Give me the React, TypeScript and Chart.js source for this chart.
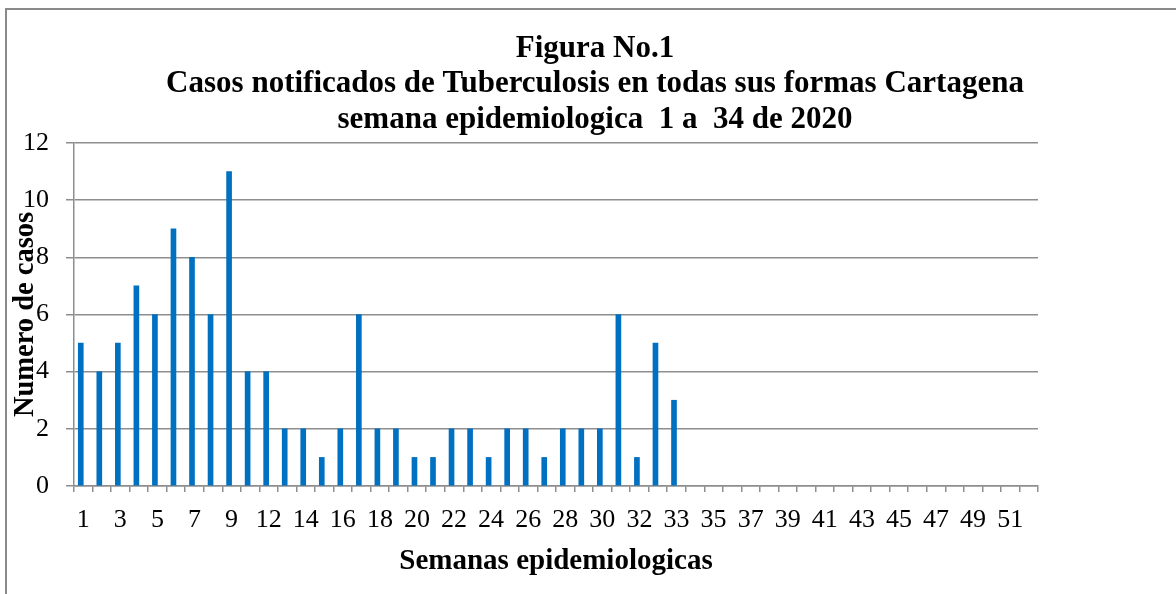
import React, { useEffect, useRef } from "react";
import { Chart, registerables } from "chart.js";

Chart.register(...registerables);

const weeks: string[] = [
  "1", "2", "3", "4", "5", "6", "7", "8", "9", "10",
  "12", "13", "14", "15", "16", "17", "18", "19", "20", "21",
  "22", "23", "24", "25", "26", "27", "28", "29", "30", "31",
  "32", "32", "33", "34", "35", "36", "37", "38", "39", "40",
  "41", "42", "43", "44", "45", "46", "47", "48", "49", "50",
  "51", "52",
];

const casos: number[] = [
  5, 4, 5, 7, 6, 9, 8, 6, 11, 4,
  4, 2, 2, 1, 2, 6, 2, 2, 1, 1,
  2, 2, 1, 2, 2, 1, 2, 2, 2, 6,
  1, 5, 3,
];

const titleLines: string[] = [
  "Figura No.1",
  "Casos notificados de Tuberculosis en todas sus formas Cartagena",
  "semana epidemiologica  1 a  34 de 2020",
];

const yTitle = "Numero de casos";
const xTitle = "Semanas epidemiologicas";

const FONT = "'Liberation Serif', 'Times New Roman', serif";
const GRID = "#8e8e8e";

export default function App() {
  const canvasRef = useRef<HTMLCanvasElement | null>(null);

  useEffect(() => {
    if (!canvasRef.current) return;
    const chart = new Chart(canvasRef.current, {
      type: "bar",
      data: {
        labels: weeks,
        datasets: [
          {
            label: "Casos",
            data: casos,
            backgroundColor: "#0070C0",
            barThickness: 5,
          },
          {
            label: "",
            data: [],
            backgroundColor: "#C0504D",
            barThickness: 5,
          },
        ],
      },
      options: {
        responsive: false,
        animation: false,
        layout: { padding: { left: 14, right: 0, top: 0, bottom: 0 } },
        plugins: {
          legend: { display: false },
          tooltip: { enabled: false },
          title: {
            display: true,
            text: titleLines,
            color: "#000",
            font: { family: FONT, size: 31, weight: "bold", lineHeight: 1.15 },
            padding: { top: 31, bottom: 5 },
          },
        },
        scales: {
          x: {
            type: "category",
            afterFit: (s: any) => {
              s.height = 108;
            },
            grid: {
              display: true,
              drawOnChartArea: false,
              drawTicks: true,
              tickLength: 6,
              color: GRID,
              lineWidth: 1.5,
              offset: true,
            },
            border: { display: true, color: GRID, width: 1.5 },
            ticks: {
              autoSkip: false,
              maxRotation: 0,
              minRotation: 0,
              padding: 13,
              color: "#000",
              font: { family: FONT, size: 26 },
              callback: (_v: any, i: number) => (i % 2 === 0 ? weeks[i] : ""),
            },
            title: {
              display: true,
              text: xTitle,
              color: "#000",
              font: { family: FONT, size: 29, weight: "bold", lineHeight: 1.2 },
              padding: { top: 9, bottom: 15 },
            },
          },
          y: {
            type: "linear",
            position: "left",
            min: 0,
            max: 12,
            afterFit: (s: any) => {
              s.width = 60;
            },
            grid: {
              color: GRID,
              lineWidth: 1.5,
              drawTicks: true,
              tickLength: 8,
            },
            border: { display: true, color: GRID, width: 1.5 },
            ticks: {
              stepSize: 2,
              padding: 17,
              color: "#000",
              font: { family: FONT, size: 26 },
            },
            title: {
              display: true,
              text: yTitle,
              color: "#000",
              font: { family: FONT, size: 28.5, weight: "bold", lineHeight: 0.85 },
              padding: { top: 0, bottom: 0 },
            },
          },
          yR: {
            type: "linear",
            position: "right",
            display: true,
            afterFit: (s: any) => {
              s.width = 138;
            },
            grid: { display: false, drawTicks: false },
            border: { display: false },
            ticks: { display: false },
          },
        },
      },
    });
    return () => chart.destroy();
  }, []);

  return (
    <div style={{ position: "absolute", left: 0, top: 0, width: 1176, height: 594, background: "#fff" }}>
      <div
        style={{
          position: "absolute",
          left: 5,
          top: 8,
          width: 1171,
          height: 586,
          borderTop: "2px solid #8a8a8a",
          borderLeft: "2px solid #8a8a8a",
          boxSizing: "border-box",
        }}
      />
      <canvas
        ref={canvasRef}
        width={1176}
        height={594}
        style={{ position: "absolute", left: 0, top: 0 }}
      />
    </div>
  );
}
